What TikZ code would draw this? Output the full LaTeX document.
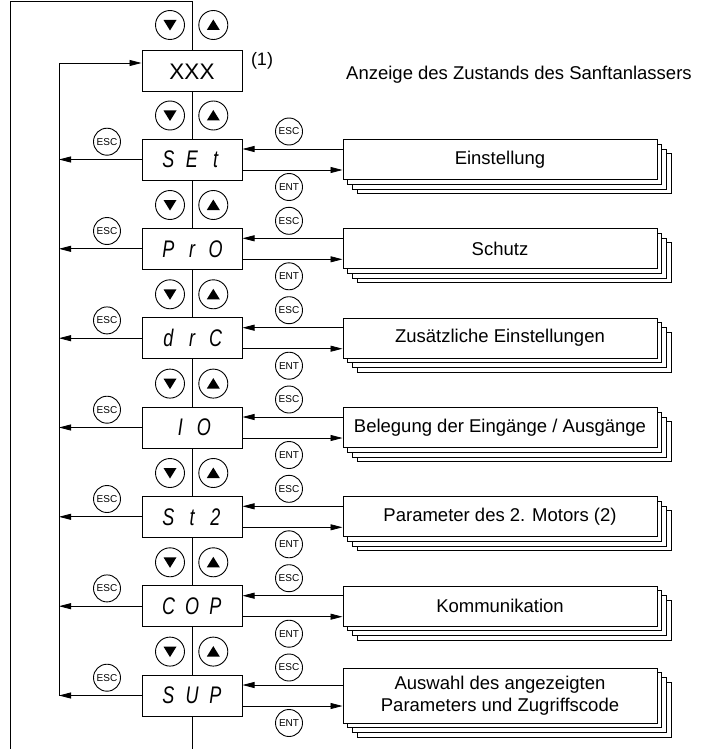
\documentclass[tikz,border=0pt]{standalone}
\usepackage{graphicx}
\usepackage{fontspec}
\setmainfont{Liberation Sans}
\usetikzlibrary{arrows.meta}
\tikzset{
  conn/.style={line width=0.8pt},
  arr/.style={conn, -{Triangle[length=12pt,width=6pt]}},
  disp/.style={draw, line width=1pt, fill=white, minimum width=100pt, minimum height=41pt, inner sep=0pt,
    font=\fontsize{24}{24}\selectfont\itshape},
  stackbox/.style={draw, line width=1pt, fill=white, minimum width=314pt, minimum height=40pt, inner sep=0pt,
    align=center, font=\fontsize{18.5}{21.5}\selectfont},
  shadowbox/.style={draw, line width=1pt, fill=white},
  btn/.style={draw, circle, line width=0.9pt, minimum size=29pt, inner sep=0pt, fill=white},
  keybtn/.style={draw, circle, line width=0.9pt, minimum size=27pt, inner sep=0pt, fill=white,
    font=\fontsize{10}{10}\selectfont},
  lbl/.style={inner sep=0pt, font=\fontsize{18.5}{21.5}\selectfont},
}
\newcommand\sg[1]{\makebox[23.5pt][c]{\scalebox{0.75}[1]{#1}}}
\begin{document}
\begin{tikzpicture}[x=1pt,y=-1pt]
\useasboundingbox (0,0) rectangle (706,749);
% main loop lines
\coordinate (Otop) at (10,1.5);
\coordinate (Obot) at (10,749);
\coordinate (Ctop) at (192,1.5);
\coordinate (Cbot) at (192,749);
\draw[conn] (Obot) -- (Otop) -- (Ctop) -- (Cbot);
% XXX
\node[disp, font=\fontsize{22.5}{22.5}\selectfont] (x) at (192,71.5) {XXX};
\node[lbl, font=\fontsize{18}{20}\selectfont] (one) at (262,61) {(1)};
\node[lbl, anchor=west] (title) at (346,75) {Anzeige des Zustands des Sanftanlassers};
% up/down buttons
\foreach \y [count=\k] in {25,115.5,205,294.3,383.6,473,562.3,651.6} {
  \node[btn] (dn\k) at (170,\y) {};
  \node[btn] (up\k) at (213.3,\y) {};
  \fill (dn\k.center) +(-6.5,-5) -- +(6.5,-5) -- +(0,5.5) -- cycle;
  \fill (up\k.center) +(-6.5,5) -- +(6.5,5) -- +(0,-5.5) -- cycle;
}
% inner left loop
\coordinate (Ltop) at (59,63);
\coordinate (L7) at (59,695.5);
\draw[conn] (L7) -- (Ltop);
\draw[arr] (Ltop) -- (Ltop -| x.west);
% rows
\foreach \c/\disptext/\boxtext/\h [count=\i] in {
  159.5/{\sg{S}\sg{E}\sg{t}}/{Einstellung}/40,
  248.8/{\sg{P}\sg{r}\sg{O}}/{Schutz}/40,
  338.2/{\sg{d}\sg{r}\sg{C}}/{Zusätzliche Einstellungen}/40,
  427.5/{\sg{I}\sg{O}}/{Belegung der Eingänge / Ausgänge}/40,
  516.8/{\sg{S}\sg{t}\sg{2}}/{Parameter des 2. Motors (2)}/40,
  606.2/{\sg{C}\sg{O}\sg{P}}/{Kommunikation}/40,
  695.5/{\sg{S}\sg{U}\sg{P}}/{Auswahl des angezeigten\\Parameters und Zugriffscode}/55} {
  \node[disp] (d\i) at (192,\c) {\disptext};
  \foreach \o in {14,9.5,4.7}
    \draw[shadowbox] (343+\o,\c-\h/2+\o) rectangle (657+\o,\c+\h/2+\o);
  \node[stackbox, minimum height=\h pt] (s\i) at (500,\c) {\boxtext};
  \coordinate (L\i) at (59,\c);
  \draw[arr] (d\i.west) -- (L\i);
  \node[keybtn] (le\i) at (107,\c-17.8) {ESC};
  \draw[arr] ([yshift=10.5pt]s\i.west) -- ([yshift=10.5pt]s\i.west -| d\i.east);
  \draw[arr] ([yshift=-10.5pt]d\i.east) -- ([yshift=-10.5pt]d\i.east -| s\i.west);
  \node[keybtn] (re\i) at (289,\c-28) {ESC};
  \node[keybtn] (rn\i) at (289,\c+27.5) {ENT};
}
\end{tikzpicture}
\end{document}
